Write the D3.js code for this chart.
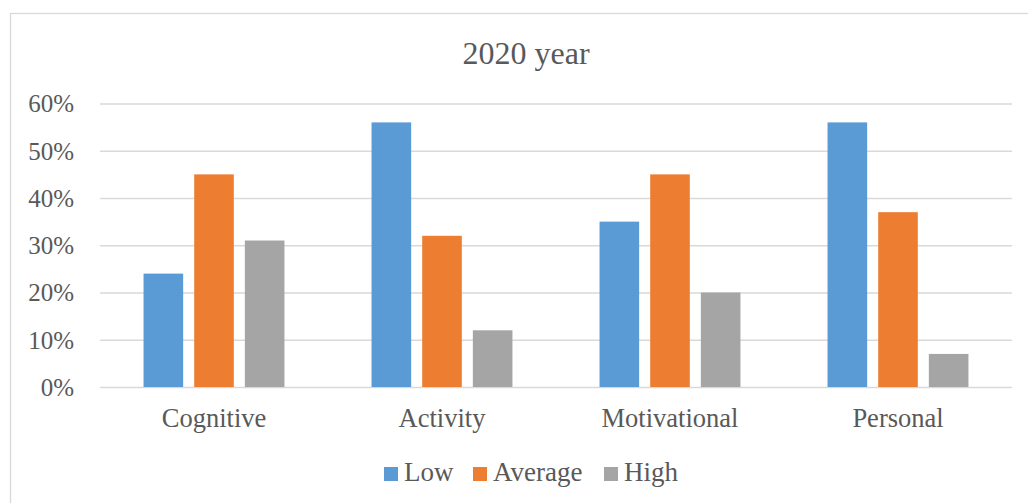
<!DOCTYPE html>
<html>
<head>
<meta charset="utf-8">
<script src="https://cdn.jsdelivr.net/npm/d3@7"></script>
<style>
  body { margin: 0; background: #fff; }
  svg text { font-family: "Liberation Serif", "Times New Roman", serif; fill: #595959; }
</style>
</head>
<body>
<div id="chart"></div>
<script>
// chart data
var categories = ["Cognitive", "Activity", "Motivational", "Personal"];
var seriesNames = ["Low", "Average", "High"];
var low = [24, 56, 35, 56];
var average = [45, 32, 45, 37];
var high = [31, 12, 20, 7];
var yTicks = [0, 10, 20, 30, 40, 50, 60];
var colors = ["#5b9bd5", "#ed7d31", "#a5a5a5"];

var seriesValues = [low, average, high];

var width = 1028,
    height = 503;
var plot = { left: 100, right: 1012, top: 103.5, bottom: 387 };

var svg = d3.select("#chart").append("svg")
    .attr("width", width)
    .attr("height", height);

// outer frame
svg.append("rect")
    .attr("x", 10.5)
    .attr("y", 13.5)
    .attr("width", 1100)
    .attr("height", 600)
    .attr("fill", "none")
    .attr("stroke", "#d9d9d9")
    .attr("stroke-width", 1.3);

svg.append("text")
    .attr("x", 526)
    .attr("y", 64)
    .attr("text-anchor", "middle")
    .style("font-size", "32px")
    .text("2020 year");

var x0 = d3.scaleBand()
    .domain(categories)
    .range([plot.left, plot.right])
    .paddingInner(0.382)
    .paddingOuter(0.191);

var x1 = d3.scaleBand()
    .domain(seriesNames)
    .range([0, x0.bandwidth()])
    .paddingInner(0.218);

var y = d3.scaleLinear()
    .domain([0, 60])
    .range([plot.bottom, plot.top]);

// gridlines
var grid = svg.append("g")
    .attr("transform", "translate(" + plot.left + ",0)")
    .call(d3.axisLeft(y).tickValues(yTicks).tickSize(-(plot.right - plot.left)).tickFormat(""));
grid.select(".domain").remove();
grid.selectAll("line").attr("stroke", "#d9d9d9").attr("stroke-width", 1.3);

// y labels
var yAxis = svg.append("g")
    .attr("transform", "translate(74,0)")
    .call(d3.axisLeft(y).tickValues(yTicks).tickSize(0).tickFormat(function(d){ return d + "%"; }));
yAxis.select(".domain").remove();
yAxis.selectAll("text")
    .attr("x", 0)
    .attr("dy", "0.33em")
    .style("font-size", "25px")
    .style("fill", "#595959");

// bars
var groups = svg.append("g").selectAll("g")
    .data(categories)
    .enter()
    .append("g")
    .attr("transform", function(d){ return "translate(" + x0(d) + ",0)"; });

groups.selectAll("rect")
    .data(function(d, i){
	return seriesNames.map(function(s, j){ return { key: s, value: seriesValues[j][i], idx: j }; });
    })
    .enter()
    .append("rect")
    .attr("x", function(d){ return x1(d.key); })
    .attr("y", function(d){ return y(d.value); })
    .attr("width", x1.bandwidth())
    .attr("height", function(d){ return y(0) - y(d.value); })
    .attr("fill", function(d){ return colors[d.idx]; });

// x labels
var xAxis = svg.append("g")
    .attr("transform", "translate(0," + plot.bottom + ")")
    .call(d3.axisBottom(x0).tickSize(0));
xAxis.select(".domain").remove();
xAxis.selectAll("text")
    .attr("y", 40)
    .attr("dy", 0)
    .style("font-size", "26.5px")
    .style("fill", "#595959");

// legend
var legendX = [384, 473, 604];
var legend = svg.append("g").selectAll("g")
    .data(seriesNames)
    .enter()
    .append("g")
    .attr("transform", function(d, i){ return "translate(" + legendX[i] + ",467)"; });

legend.append("rect")
    .attr("width", 14)
    .attr("height", 14)
    .attr("fill", function(d, i){ return colors[i]; });

legend.append("text")
    .attr("x", 20)
    .attr("y", 14)
    .style("font-size", "27px")
    .text(function(d){ return d; });
</script>
</body>
</html>
